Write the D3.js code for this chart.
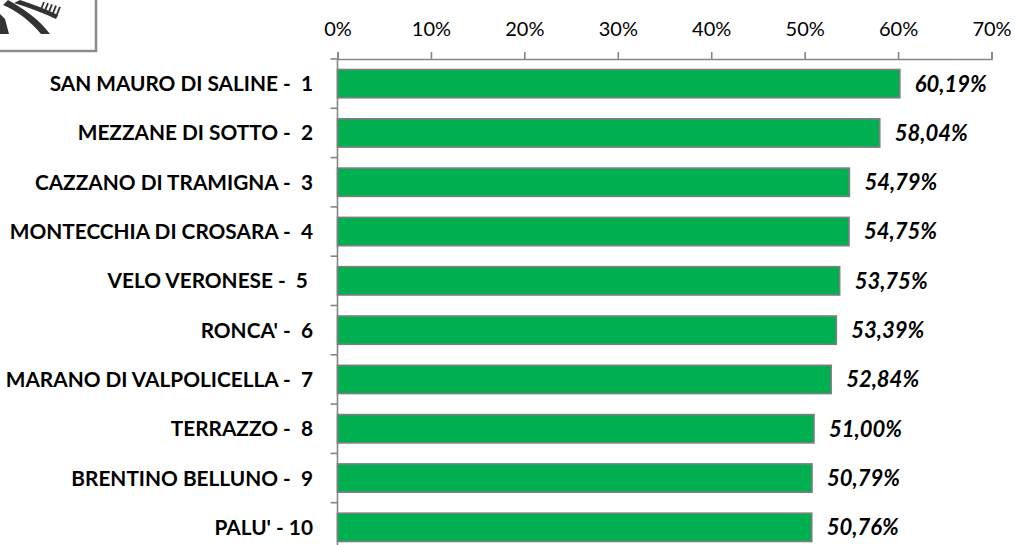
<!DOCTYPE html>
<html>
<head>
<meta charset="utf-8">
<script src="https://cdn.jsdelivr.net/npm/d3@7"></script>
<style>
  html, body { margin: 0; padding: 0; background: #fff; }
  svg { display: block; }
  text { white-space: pre; }
</style>
</head>
<body>
<svg id="chart" width="1015" height="545"></svg>
<script>
const categories = [
  "SAN MAURO DI SALINE -  1",
  "MEZZANE DI SOTTO -  2",
  "CAZZANO DI TRAMIGNA -  3",
  "MONTECCHIA DI CROSARA -  4",
  "VELO VERONESE -  5 ",
  "RONCA' -  6",
  "MARANO DI VALPOLICELLA -  7",
  "TERRAZZO -  8",
  "BRENTINO BELLUNO -  9",
  "PALU' - 10"
];
const values = [60.19, 58.04, 54.79, 54.75, 53.75, 53.39, 52.84, 51.00, 50.79, 50.76];
const tickValues = [0, 10, 20, 30, 40, 50, 60, 70];
const tickLabels = ["0%", "10%", "20%", "30%", "40%", "50%", "60%", "70%"];

const svg = d3.select("#chart");
const axisColor = "#868686";
const fontFam = "Lato, 'Open Sans', sans-serif";

const x = d3.scaleLinear().domain([0, 70]).range([337.5, 991.5]);
const y = d3.scaleBand().domain(categories).range([59, 552]).paddingInner(0.426).paddingOuter(0.213);

// Logo (decorative)
const logo = svg.append("g");
logo.append("rect").attr("x", -4).attr("y", -4).attr("width", 100).attr("height", 55)
  .attr("fill", "#fff").attr("stroke", "#8c8c8c").attr("stroke-width", 2.5);
logo.append("path").attr("d", "M0,14 L5,19 L9,34 L0,34 Z").attr("fill", "#333");
logo.append("path").attr("d", "M8,0 C22,8 38,18 50,34 L41,34 C31,22 18,11 3,5 Z").attr("fill", "#333");
logo.append("path").attr("d", "M20,0 C32,4 46,9 58,15 L56,19 C44,13 30,8 14,3 Z").attr("fill", "#333");
[40, 44, 48, 52, 56].forEach((hx, i) => {
  logo.append("line").attr("x1", hx).attr("y1", 12 + i * 1.2).attr("x2", hx + 4).attr("y2", 2 + i * 1.2)
    .attr("stroke", "#333").attr("stroke-width", 1.8);
});

// Top axis
const topAxis = d3.axisTop(x).tickValues(tickValues).tickSize(7).tickSizeOuter(7)
  .tickFormat((d, i) => tickLabels[i]);
const gTop = svg.append("g").attr("transform", `translate(0,${y.range()[0]})`).call(topAxis);
gTop.selectAll("path.domain").attr("stroke", axisColor).attr("stroke-width", 1.6);
gTop.selectAll(".tick line").attr("stroke", axisColor).attr("stroke-width", 1.6);
gTop.selectAll(".tick text").attr("font-family", fontFam).attr("font-size", 20)
  .attr("fill", "#000").attr("dy", 0).attr("y", -23);

// Left category axis line and boundary ticks
const step = y.step();
const y0 = y.range()[0];
const boundaries = d3.range(categories.length + 1).map(i => y0 + i * step);
svg.append("line").attr("x1", x(0)).attr("x2", x(0)).attr("y1", y0).attr("y2", y.range()[1])
  .attr("stroke", axisColor).attr("stroke-width", 1.6);
svg.selectAll("line.cattick").data(boundaries).enter().append("line").attr("class", "cattick")
  .attr("x1", x(0) - 7).attr("x2", x(0)).attr("y1", d => d).attr("y2", d => d)
  .attr("stroke", axisColor).attr("stroke-width", 1.6);

// Bars
svg.selectAll("rect.bar").data(values).enter().append("rect").attr("class", "bar")
  .attr("x", x(0)).attr("y", (d, i) => y(categories[i]))
  .attr("width", d => x(d) - x(0)).attr("height", y.bandwidth())
  .attr("fill", "#00B050").attr("stroke", "#7f7f7f").attr("stroke-width", 1.6);

// Category labels
svg.selectAll("text.cat").data(categories).enter().append("text").attr("class", "cat")
  .attr("x", 313).attr("y", d => y(d) + y.bandwidth() / 2).attr("dy", "0.36em")
  .attr("text-anchor", "end").attr("font-family", fontFam).attr("font-weight", "bold")
  .attr("font-size", 20.8).attr("fill", "#000").text(d => d);

// Value labels
svg.selectAll("text.val").data(values).enter().append("text").attr("class", "val")
  .attr("x", d => x(d) + 15).attr("y", (d, i) => y(categories[i]) + y.bandwidth() / 2).attr("dy", "0.36em")
  .attr("font-family", fontFam).attr("font-weight", "bold").attr("font-style", "italic")
  .attr("font-size", 22).attr("fill", "#000")
  .text(d => d.toFixed(2).replace(".", ",") + "%");
</script>
</body>
</html>
